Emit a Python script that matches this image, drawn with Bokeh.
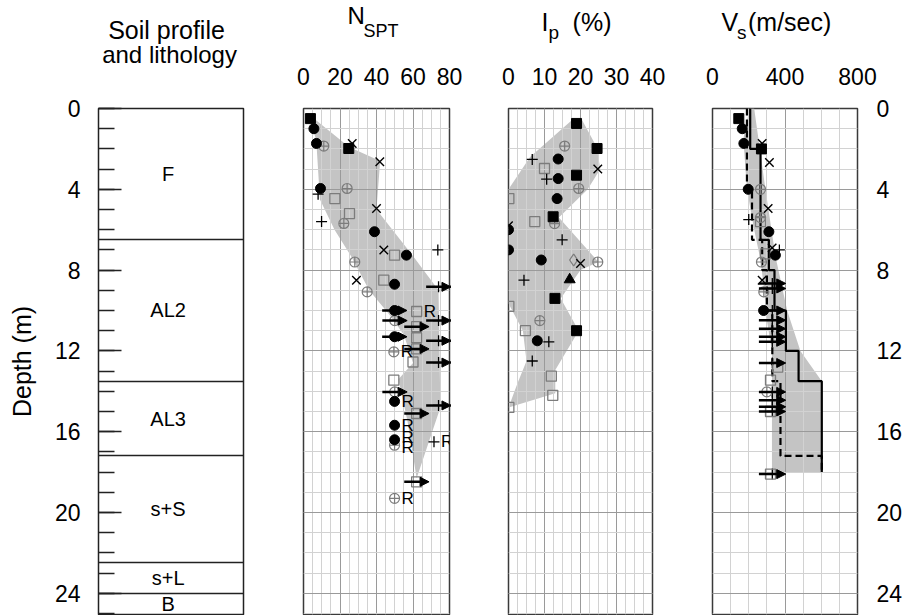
import numpy as np
from bokeh.plotting import figure
from bokeh.layouts import row, column
from bokeh.models import Range1d, FixedTicker, Arrow, NormalHead, ColumnDataSource
from bokeh.core.properties import value
from bokeh.embed import file_html
from bokeh.resources import INLINE

FONT = "Liberation Sans"
DEPTH_MAX = 25.05
depth_ticks = [0, 4, 8, 12, 16, 20, 24]
depth_minor = list(range(0, 26))

# soil profile
layer_top = [0, 6.5, 13.5, 17.2, 22.5, 24.0]
layer_bot = [6.5, 13.5, 17.2, 22.5, 24.0, DEPTH_MAX]
layer_name = ["F", "AL2", "AL3", "s+S", "s+L", "B"]

# N_SPT
nspt_ticks = [0, 20, 40, 60, 80]
nspt_fcircle_n = [5.7, 7.1, 9.3, 38.9, 56.4, 49.9, 49.9, 49.9, 49.9, 49.9, 49.9]
nspt_fcircle_d = [1.0, 1.73, 3.96, 6.1, 7.26, 8.7, 10.0, 11.3, 14.5, 15.68, 16.4]
nspt_fsquare_n = [3.8, 24.8]
nspt_fsquare_d = [0.5, 1.98]
nspt_x_n = [26.7, 41.8, 40.0, 44.0, 29.0]
nspt_x_d = [1.73, 2.64, 4.95, 7.0, 8.5]
nspt_plus_n = [8.0, 9.9, 73.6, 74, 74, 74, 74, 74, 71.5]
nspt_plus_d = [4.24, 5.6, 7.0, 8.83, 10.5, 11.5, 12.58, 14.7, 16.5]
nspt_ccross_n = [11.1, 23.9, 22.1, 28.1, 34.9, 50.0, 49.5, 50.0, 49.9, 49.9]
nspt_ccross_d = [1.86, 3.96, 5.69, 7.6, 9.08, 10.5, 12.05, 14.03, 16.67, 19.3]
nspt_osquare_n = [17.2, 25.2, 49.9, 44.0, 62.0, 62.0, 62.0, 62.0, 60.0, 49.5, 62.0, 62.0]
nspt_osquare_d = [4.46, 5.2, 7.26, 8.5, 10.05, 10.8, 11.35, 11.9, 12.55, 13.45, 15.1, 18.48]
nspt_arrow_n = [49.9, 49.9, 50.0, 50.0, 74, 74, 74, 74, 74, 62, 62, 62, 62]
nspt_arrow_d = [10.0, 11.3, 10.5, 14.03, 8.83, 10.5, 11.5, 12.58, 14.7, 10.8, 11.9, 15.1, 18.48]
nspt_r_n = [62.0, 49.5, 49.9, 49.9, 49.9, 49.9, 71.5, 49.9]
nspt_r_d = [10.05, 12.05, 14.5, 15.68, 16.3, 16.8, 16.5, 19.3]
nspt_band_n = [3, 25, 42, 40, 60, 74, 75, 62, 57, 52, 60, 55, 47, 36, 26, 17, 9, 7]
nspt_band_d = [0.3, 1.9, 2.6, 5.0, 7.3, 9.0, 14.8, 18.3, 15.5, 13.4, 12.6, 11.2, 10.2, 9.0, 7.3, 6.0, 4.5, 1.6]

# Ip (%)
ip_ticks = [0, 10, 20, 30, 40]
ip_fsquare_v = [18.9, 24.6, 18.9, 12.4, 12.9, 18.9]
ip_fsquare_d = [0.74, 1.98, 3.3, 5.36, 9.4, 11.0]
ip_ccross_v = [15.6, 19.5, 12.8, 24.8, 8.7]
ip_ccross_d = [1.86, 3.96, 5.7, 7.6, 10.5]
ip_plus_v = [6.6, 10.6, 14.9, 4.3, 11.2, 6.6]
ip_plus_d = [2.52, 3.5, 6.5, 8.5, 11.55, 12.5]
ip_fcircle_v = [13.8, 13.8, 13.5, 0.0, 0.0, 9.1, 8.0]
ip_fcircle_d = [2.5, 3.47, 4.46, 6.0, 7.0, 7.5, 11.5]
ip_osquare_v = [10.0, 0.1, 7.3, 0.1, 4.7, 11.9, 12.3, 0.1]
ip_osquare_d = [2.97, 4.46, 5.6, 9.8, 11.0, 13.25, 14.2, 14.8]
ip_x_v = [24.8, 0.0, 20.0]
ip_x_d = [3.0, 5.8, 7.67]
ip_diamond_v = [18.1]
ip_diamond_d = [7.5]
ip_triangle_v = [17.0]
ip_triangle_d = [8.47]
ip_band_v = [17.5, 20.5, 24.5, 25.5, 22, 14, 25, 20, 14.5, 19.5, 13, 13, 0, 2.5, 5, 4, 0, 0, 6, 13]
ip_band_d = [0.6, 0.6, 1.9, 3.0, 4.0, 5.4, 7.6, 8.0, 9.4, 11.0, 12.95, 14.1, 14.8, 13.6, 12.5, 11.0, 9.65, 4.0, 2.4, 1.3]

# Vs (m/sec)
vs_ticks = [0, 400, 800]
vs_fsquare_v = [145, 270]
vs_fsquare_d = [0.5, 2.0]
vs_fcircle_v = [164, 173, 197, 311, 347, 282]
vs_fcircle_d = [1.0, 1.73, 4.0, 6.1, 7.26, 10.0]
vs_x_v = [274, 314, 307, 329, 274]
vs_x_d = [1.73, 2.67, 4.95, 6.9, 8.5]
vs_ccross_v = [265, 265, 270, 283, 300]
vs_ccross_d = [4.0, 5.4, 7.6, 9.08, 14.03]
vs_plus_v = [200, 369]
vs_plus_d = [5.5, 7.0]
vs_osquare_v = [265, 292, 360, 320, 320, 320]
vs_osquare_d = [5.6, 7.2, 12.8, 13.45, 15.0, 18.1]
vs_arrow_v = [330, 330, 330, 330, 330, 330, 330, 330, 330, 330, 330, 330, 330]
vs_arrow_d = [8.66, 8.91, 10.0, 10.48, 10.9, 11.3, 11.55, 12.6, 14.03, 14.44, 14.77, 15.0, 18.1]
vs_solid_top = [0, 2, 6.5, 8, 10, 12, 13.5]
vs_solid_bot = [2, 6.5, 8, 10, 12, 13.5, 18]
vs_solid_v = [208, 265, 311, 342, 405, 475, 603]
vs_dash_top = [0, 4, 6.5, 8, 10, 13.5, 17.2]
vs_dash_bot = [4, 6.5, 8, 10, 13.5, 17.2, 18]
vs_dash_v = [190, 218, 274, 300, 330, 375, 603]
vs_band_v = [208, 230, 292, 347, 412, 485, 603, 603, 328, 328, 300, 285, 265, 230, 190, 170, 205]
vs_band_d = [0, 0, 4.0, 7.3, 10.0, 12.0, 13.5, 18.0, 18.0, 12.0, 10.5, 9.0, 7.5, 6.0, 4.0, 1.5, 0]

GRAY = "#7c7c7c"
STYLE = {
    "fcircle": dict(marker="circle", size=10, fill_color="black", line_color="black"),
    "fsquare": dict(marker="square", size=10, fill_color="black", line_color="black"),
    "x": dict(marker="x", size=12, line_color="black", line_width=1.4),
    "plus": dict(marker="cross", size=11, line_color="black", line_width=1.3),
    "ccross": dict(marker="circle_cross", size=10, fill_color=None, line_color=GRAY, line_width=1.2),
    "osquare": dict(marker="square", size=10, fill_color=None, line_color=GRAY, line_width=1.3),
    "diamond": dict(marker="diamond", size=12, fill_color=None, line_color=GRAY, line_width=1.3),
    "triangle": dict(marker="triangle", size=11, fill_color="black", line_color="black"),
}


def panel(frame_w, left, right, top, xr, x_axis=True, y_axis=None):
    p = figure(frame_width=frame_w, frame_height=506, x_range=xr,
               y_range=Range1d(DEPTH_MAX, 0),
               x_axis_location="above" if x_axis else None, y_axis_location=y_axis,
               toolbar_location=None, output_backend="svg",
               min_border_left=left, min_border_right=right,
               min_border_top=top, min_border_bottom=1)
    p.outline_line_color = "#3a3a3a"
    p.outline_line_width = 1.5
    return p


def header(p, height, texts):
    # strip above a panel for its title: x in the panel's units, y in pixels from the top
    h = figure(frame_width=p.frame_width, height=height, x_range=p.x_range,
               y_range=Range1d(height, 0), x_axis_location=None, y_axis_location=None,
               toolbar_location=None, output_backend="svg", min_border=0,
               min_border_left=p.min_border_left, min_border_right=p.min_border_right)
    h.outline_line_color = None
    h.grid.visible = False
    for x, y, txt, size, align in texts:
        h.text(x=[x], y=[y], text=[txt], text_align=align, text_baseline="alphabetic",
               text_font=value(FONT), text_font_size=size, text_color="black")
    return h


def style_top_axis(p, ticks, minor, major_col="#9a9a9a"):
    t = FixedTicker(ticks=ticks, minor_ticks=minor)
    ax = p.xaxis[0]
    ax.ticker = t
    ax.major_tick_in = 0
    ax.major_tick_out = 0
    ax.minor_tick_in = 0
    ax.minor_tick_out = 0
    ax.axis_line_color = None
    ax.major_label_standoff = 24
    ax.major_label_text_font = FONT
    ax.major_label_text_font_size = "23px"
    ax.major_label_text_color = "black"
    g = p.xgrid[0]
    g.ticker = t
    g.grid_line_color = major_col
    g.minor_grid_line_color = "#d2d2d2"
    gy = p.ygrid[0]
    gy.ticker = FixedTicker(ticks=depth_ticks, minor_ticks=depth_minor)
    gy.grid_line_color = major_col
    gy.minor_grid_line_color = "#d2d2d2"


def band(p, xs, ds):
    p.patch(xs, ds, fill_color="#c4c4c4", line_color=None, level="image")


def pts(p, xs, ds, kind):
    p.scatter(xs, ds, **STYLE[kind])


def arrows(p, xs, ds, half):
    src = ColumnDataSource(dict(x0=[x - half for x in xs], x1=[x + half for x in xs], y=ds))
    p.add_layout(Arrow(end=NormalHead(size=9, fill_color="black", line_color="black", line_width=1),
                       x_start="x0", y_start="y", x_end="x1", y_end="y",
                       line_width=2.5, line_color="black", source=src))


def steps(top, bot, v):
    xs, ys = [], []
    for a, b, c in zip(top, bot, v):
        xs += [c, c]
        ys += [a, b]
    return xs, ys


# ---- soil profile
p1 = panel(145, 98, 30, 30, Range1d(0, 1), x_axis=False, y_axis="left")
p1.grid.visible = False
p1.outline_line_color = "#222222"
ay = p1.yaxis[0]
ay.ticker = FixedTicker(ticks=depth_ticks, minor_ticks=depth_minor)
ay.major_tick_in = 23
ay.major_tick_out = 0
ay.minor_tick_in = 16
ay.minor_tick_out = 0
ay.major_tick_line_width = 1.5
ay.minor_tick_line_width = 1.5
ay.major_tick_line_color = "#222222"
ay.minor_tick_line_color = "#222222"
ay.axis_line_color = None
ay.major_label_standoff = 18
ay.major_label_text_font = FONT
ay.major_label_text_font_size = "23px"
ay.major_label_text_color = "black"
ay.axis_label = "Depth (m)"
ay.axis_label_text_font = FONT
ay.axis_label_text_font_size = "25px"
ay.axis_label_text_font_style = "normal"
ay.axis_label_text_color = "black"
ay.axis_label_standoff = 16
p1.hspan(y=layer_top[1:], line_color="#222222", line_width=1.5)
mids = [(a + b) / 2 for a, b in zip(layer_top, layer_bot)]
p1.text(x=[0.48] * len(mids), y=mids, text=layer_name, text_align="center",
        text_baseline="middle", text_font=value(FONT), text_font_size="20px", text_color="black")
h1 = header(p1, 78, [(0.469, 29, "Soil profile", "25px", "center"),
                     (0.49, 54, "and lithology", "24px", "center")])

# ---- N_SPT
p2 = panel(146, 30, 29, 53, Range1d(0, 80))
style_top_axis(p2, nspt_ticks, list(range(0, 81, 5)))
band(p2, nspt_band_n, nspt_band_d)
arrows(p2, nspt_arrow_n, nspt_arrow_d, 6.8)
pts(p2, nspt_osquare_n, nspt_osquare_d, "osquare")
pts(p2, nspt_ccross_n, nspt_ccross_d, "ccross")
pts(p2, nspt_x_n, nspt_x_d, "x")
pts(p2, nspt_plus_n, nspt_plus_d, "plus")
pts(p2, nspt_fsquare_n, nspt_fsquare_d, "fsquare")
pts(p2, nspt_fcircle_n, nspt_fcircle_d, "fcircle")
p2.text(x=nspt_r_n, y=nspt_r_d, text=["R"] * len(nspt_r_n), x_offset=7,
        text_align="left", text_baseline="middle", text_font=value(FONT),
        text_font_size="17px", text_color="black")
h2 = header(p2, 55, [(24.1, 15, "N", "24px", "left"), (32.9, 30, "SPT", "18px", "left")])

# ---- Ip
p3 = panel(144, 30, 30, 53, Range1d(0, 40))
style_top_axis(p3, ip_ticks, list(np.arange(0, 40.1, 2.5)))
band(p3, ip_band_v, ip_band_d)
pts(p3, ip_osquare_v, ip_osquare_d, "osquare")
pts(p3, ip_ccross_v, ip_ccross_d, "ccross")
pts(p3, ip_diamond_v, ip_diamond_d, "diamond")
pts(p3, ip_x_v, ip_x_d, "x")
pts(p3, ip_plus_v, ip_plus_d, "plus")
pts(p3, ip_fsquare_v, ip_fsquare_d, "fsquare")
pts(p3, ip_fcircle_v, ip_fcircle_d, "fcircle")
pts(p3, ip_triangle_v, ip_triangle_d, "triangle")
h3 = header(p3, 55, [(9.2, 21, "I", "25px", "left"), (11.1, 32, "p", "19px", "left"),
                     (17.8, 21, "(%)", "25px", "left")])

# ---- Vs
p4 = panel(145, 30, 10, 53, Range1d(0, 800), y_axis="right")
style_top_axis(p4, vs_ticks, list(range(0, 801, 100)))
ar = p4.yaxis[0]
ar.ticker = FixedTicker(ticks=depth_ticks)
ar.major_tick_in = 0
ar.major_tick_out = 0
ar.minor_tick_in = 0
ar.minor_tick_out = 0
ar.axis_line_color = None
ar.major_label_standoff = 19
ar.major_label_text_font = FONT
ar.major_label_text_font_size = "23px"
ar.major_label_text_color = "black"
band(p4, vs_band_v, vs_band_d)
sx, sy = steps(vs_dash_top, vs_dash_bot, vs_dash_v)
p4.line(sx, sy, line_color="black", line_width=2.2, line_dash="7 4")
sx, sy = steps(vs_solid_top, vs_solid_bot, vs_solid_v)
p4.line(sx, sy, line_color="black", line_width=2.2)
arrows(p4, vs_arrow_v, vs_arrow_d, 74)
pts(p4, vs_arrow_v, vs_arrow_d, "plus")
pts(p4, vs_osquare_v, vs_osquare_d, "osquare")
pts(p4, vs_ccross_v, vs_ccross_d, "ccross")
pts(p4, vs_x_v, vs_x_d, "x")
pts(p4, vs_plus_v, vs_plus_d, "plus")
pts(p4, vs_fsquare_v, vs_fsquare_d, "fsquare")
pts(p4, vs_fcircle_v, vs_fcircle_d, "fcircle")
h4 = header(p4, 55, [(50, 21, "V", "25px", "left"), (135, 32, "s", "19px", "left"),
                     (196, 21, "(m/sec)", "25px", "left")])

layout = row(column(h1, p1), column(h2, p2), column(h3, p3), column(h4, p4))
open("out.html", "w").write(file_html(layout, INLINE))
